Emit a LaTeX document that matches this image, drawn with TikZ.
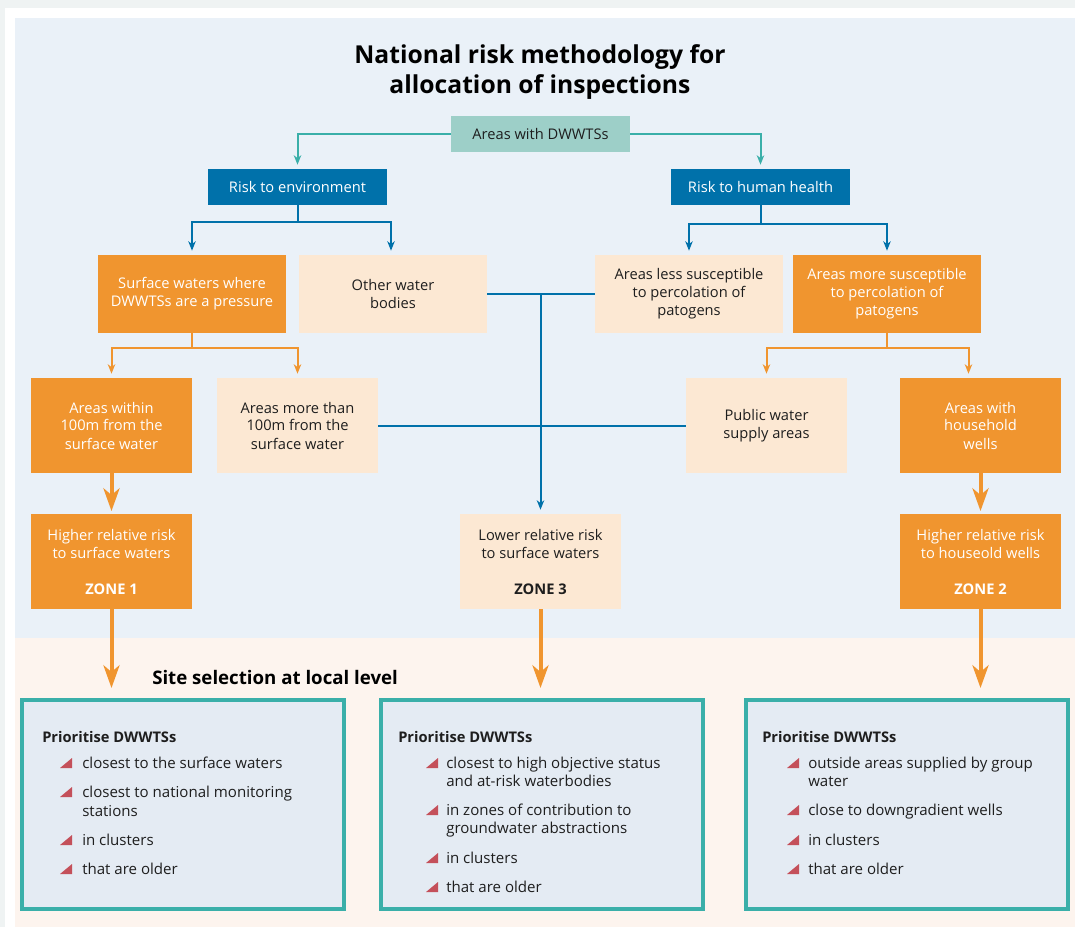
\documentclass[tikz,border=0pt]{standalone}
\usepackage{fontspec}
\setmainfont{Open Sans}
\usetikzlibrary{arrows.meta}

\definecolor{framegrey}{HTML}{EFF3F3}
\definecolor{panelblue}{HTML}{EAF1F8}
\definecolor{bandpeach}{HTML}{FDF4EE}
\definecolor{tealfill}{HTML}{9DCFC8}
\definecolor{tealline}{HTML}{3AAFA9}
\definecolor{riskblue}{HTML}{0071AA}
\definecolor{zoneorange}{HTML}{F0952F}
\definecolor{lightpeach}{HTML}{FCE8D3}
\definecolor{listfill}{HTML}{E4EBF3}
\definecolor{tribullet}{HTML}{C4505A}
\definecolor{darktext}{HTML}{1E1E1E}

\begin{document}
\begin{tikzpicture}[x=0.75pt, y=-0.75pt,
	flow/.style={shape=rectangle, align=center, inner sep=0pt, font=\fontsize{11}{13.5}\selectfont},
	topbox/.style={flow, fill=tealfill, text=darktext, minimum width=134.25pt, minimum height=27pt},
	riskbox/.style={flow, fill=riskblue, text=white, minimum width=134.25pt, minimum height=27pt},
	widehot/.style={flow, fill=zoneorange, text=white, minimum width=141pt, minimum height=58.5pt},
	widecool/.style={flow, fill=lightpeach, text=darktext, minimum width=141pt, minimum height=58.5pt},
	hotbox/.style={flow, fill=zoneorange, text=white, minimum width=120.75pt, minimum height=71.25pt},
	coolbox/.style={flow, fill=lightpeach, text=darktext, minimum width=120.75pt, minimum height=71.25pt},
	listbox/.style={shape=rectangle, draw=tealline, line width=3pt, fill=listfill, minimum width=241.5pt, minimum height=156.75pt},
	listhead/.style={anchor=base west, inner sep=0pt, text=darktext, font=\fontsize{11}{13.5}\selectfont\bfseries},
	listtext/.style={anchor=base west, inner sep=0pt, text=darktext, font=\fontsize{11.3}{13.5}\selectfont},
	bullettri/.style={fill=tribullet},
	tealarrow/.style={draw=tealline, line width=1.5pt, -{Stealth[length=7pt, width=5.5pt, inset=2pt]}},
	bluearrow/.style={draw=riskblue, line width=1.5pt, -{Stealth[length=7pt, width=5.5pt, inset=2pt]}},
	bluelink/.style={draw=riskblue, line width=1.5pt},
	orangearrow/.style={draw=zoneorange, line width=1.5pt, -{Stealth[length=7pt, width=5.5pt, inset=2pt]}},
	orangethick/.style={draw=zoneorange, line width=3pt, -{Stealth[length=17pt, width=12pt, inset=5pt]}}
]
	\useasboundingbox (0, 0) rectangle (1075, 927);
	% background
	\fill[framegrey] (0, 0) rectangle (1075, 927);
	\fill[white] (5, 8) rectangle (1075, 927);
	\fill[panelblue] (15, 18) rectangle (1075, 638);
	\fill[bandpeach] (15, 638) rectangle (1075, 927);

	\node[align=center, inner sep=0pt, text=black, font=\fontsize{18.5}{23}\selectfont\bfseries] (title) at (540, 72){National risk methodology for\\allocation of inspections};

	% flow boxes
	\node[topbox] (top) at (540.5, 134){Areas with DWWTSs};
	\node[riskbox] (env) at (297.5, 187){Risk to environment};
	\node[riskbox] (health) at (760.5, 187){Risk to human health};
	\node[widehot] (surf) at (192, 294){Surface waters where\\DWWTSs are a pressure};
	\node[widecool] (other) at (393, 294){Other water\\bodies};
	\node[widecool] (less) at (689, 294){Areas less susceptible\\to percolation of\\patogens};
	\node[widehot] (more) at (887, 294){Areas more susceptible\\to percolation of\\patogens};
	\node[hotbox] (within) at (111.5, 425.5){Areas within\\100m from the\\surface water};
	\node[coolbox] (farther) at (297.5, 425.5){Areas more than\\100m from the\\surface water};
	\node[coolbox] (public) at (766.5, 425.5){Public water\\supply areas};
	\node[hotbox] (wells) at (980.5, 425.5){Areas with\\household\\wells};
	\node[hotbox] (zone1) at (111.5, 561.5){Higher relative risk\\to surface waters\\[13.5pt]\textbf{ZONE 1}};
	\node[coolbox] (zone3) at (540.5, 561.5){Lower relative risk\\to surface waters\\[13.5pt]\textbf{ZONE 3}};
	\node[hotbox] (zone2) at (980.5, 561.5){Higher relative risk\\to houseold wells\\[13.5pt]\textbf{ZONE 2}};

	% connectors
	\draw[tealarrow] (top.west) -| ([yshift=3pt]env.north);
	\draw[tealarrow] (top.east) -| ([yshift=3pt]health.north);
	\draw[bluearrow] (env.south) -- ++(0, 17) -| ([yshift=3pt]surf.north);
	\draw[bluearrow] (env.south) -- ++(0, 17) -| ([xshift=-1.5pt, yshift=3pt]other.north);
	\draw[bluearrow] (health.south) -- ++(0, 19) -| ([yshift=3pt]less.north);
	\draw[bluearrow] (health.south) -- ++(0, 19) -| ([yshift=3pt]more.north);
	\draw[orangearrow] (surf.south) -- ++(0, 15) -| ([yshift=3pt]within.north);
	\draw[orangearrow] (surf.south) -- ++(0, 15) -| ([yshift=3pt]farther.north);
	\draw[orangearrow] (more.south) -- ++(0, 15) -| ([yshift=3pt]public.north);
	\draw[orangearrow] (more.south) -- ++(0, 15) -| ([xshift=-9pt, yshift=3pt]wells.north);
	\draw[bluelink] (other.east) -- (less.west);
	\draw[bluelink] (farther.east) -- (public.west);
	\draw[bluearrow] (other.east -| zone3.north) -- ([yshift=3pt]zone3.north);
	\draw[orangethick, shorten >=2pt] (within.south) -- (zone1.north);
	\draw[orangethick, shorten >=2pt] (wells.south) -- (zone2.north);

	% local level
	\node[anchor=base west, inner sep=0pt, text=black, font=\fontsize{14}{17}\selectfont\bfseries] (local) at (152, 684){Site selection at local level};
	\node[listbox] (b1) at (183, 804.5){};
	\node[listbox] (b2) at (542, 804.5){};
	\node[listbox] (b3) at (907, 804.5){};
	\draw[orangethick, shorten >=7.5pt] (zone1.south) -- (zone1.south |- b1.north);
	\draw[orangethick, shorten >=7.5pt] (zone3.south) -- (zone3.south |- b2.north);
	\draw[orangethick, shorten >=7.5pt] (zone2.south) -- (zone2.south |- b3.north);

	\node[listhead] (b1h) at (42, 742){Prioritise DWWTSs};
	\fill[bullettri] (60, 768) -- (72, 768) -- (72, 758) -- cycle;
	\node[listtext] (b1a) at (82, 768){closest to the surface waters};
	\fill[bullettri] (60, 797) -- (72, 797) -- (72, 787) -- cycle;
	\node[listtext] (b1b) at (82, 797){closest to national monitoring};
	\node[listtext] (b1c) at (82, 816){stations};
	\fill[bullettri] (60, 845) -- (72, 845) -- (72, 835) -- cycle;
	\node[listtext] (b1d) at (82, 845){in clusters};
	\fill[bullettri] (60, 874) -- (72, 874) -- (72, 864) -- cycle;
	\node[listtext] (b1e) at (82, 874){that are older};

	\node[listhead] (b2h) at (398, 742){Prioritise DWWTSs};
	\fill[bullettri] (426, 768) -- (438, 768) -- (438, 758) -- cycle;
	\node[listtext] (b2a) at (446, 768){closest to high objective status};
	\node[listtext] (b2b) at (446, 786){and at-risk waterbodies};
	\fill[bullettri] (426, 815) -- (438, 815) -- (438, 805) -- cycle;
	\node[listtext] (b2c) at (446, 815){in zones of contribution to};
	\node[listtext] (b2d) at (446, 833){groundwater abstractions};
	\fill[bullettri] (426, 863) -- (438, 863) -- (438, 853) -- cycle;
	\node[listtext] (b2e) at (446, 863){in clusters};
	\fill[bullettri] (426, 892) -- (438, 892) -- (438, 882) -- cycle;
	\node[listtext] (b2f) at (446, 892){that are older};

	\node[listhead] (b3h) at (762, 742){Prioritise DWWTSs};
	\fill[bullettri] (787, 768) -- (799, 768) -- (799, 758) -- cycle;
	\node[listtext] (b3a) at (808, 768){outside areas supplied by group};
	\node[listtext] (b3b) at (808, 786){water};
	\fill[bullettri] (787, 815) -- (799, 815) -- (799, 805) -- cycle;
	\node[listtext] (b3c) at (808, 815){close to downgradient wells};
	\fill[bullettri] (787, 845) -- (799, 845) -- (799, 835) -- cycle;
	\node[listtext] (b3d) at (808, 845){in clusters};
	\fill[bullettri] (787, 874) -- (799, 874) -- (799, 864) -- cycle;
	\node[listtext] (b3e) at (808, 874){that are older};
\end{tikzpicture}
\end{document}
